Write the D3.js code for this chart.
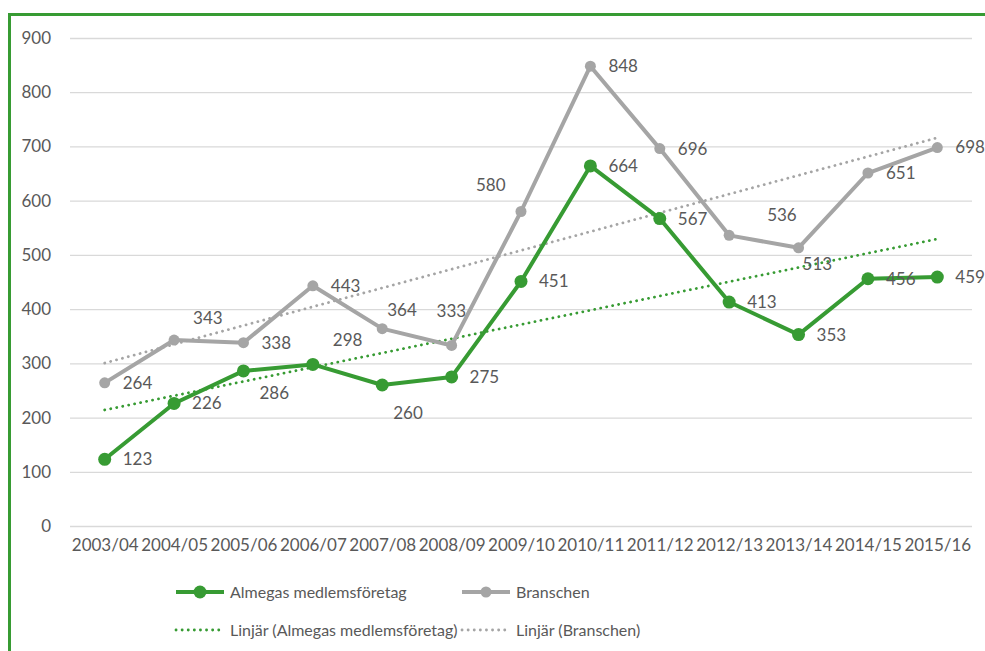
<!DOCTYPE html>
<html>
<head>
<meta charset="utf-8">
<script src="https://cdn.jsdelivr.net/npm/d3@7"></script>
<style>
  body { margin: 0; background: #fff; }
  svg text { font-family: Lato, "Open Sans", sans-serif; fill: #595959; }
</style>
</head>
<body>
<svg id="chart" width="985" height="651"></svg>
<script>
const years = ["2003/04", "2004/05", "2005/06", "2006/07", "2007/08", "2008/09", "2009/10",
               "2010/11", "2011/12", "2012/13", "2013/14", "2014/15", "2015/16"];
const almega = [123, 226, 286, 298, 260, 275, 451, 664, 567, 413, 353, 456, 459];
const bransch = [264, 343, 338, 443, 364, 333, 580, 848, 696, 536, 513, 651, 698];
const yTicks = [0, 100, 200, 300, 400, 500, 600, 700, 800, 900];

const green = "#379b33", grey = "#a5a5a5";
const margin = {top: 38, right: 13, bottom: 125, left: 70};
const width  = 985 - margin.left - margin.right;
const height = 651 - margin.top - margin.bottom;

const svg = d3.select("#chart");

// green frame, only left and top edges visible
svg.append("rect")
  .attr("x", 9.5).attr("y", 14.5)
  .attr("width", 1100).attr("height", 800)
  .attr("fill", "none")
  .attr("stroke", green)
  .attr("stroke-width", 3);

const g = svg.append("g")
  .attr("transform", "translate(" + margin.left + "," + margin.top + ")");

const x = d3.scalePoint().domain(years).range([0, width]).padding(0.5);
const y = d3.scaleLinear().domain([0, 900]).range([height, 0]);

// grid
g.append("g").selectAll("line")
  .data(yTicks)
  .join("line")
    .attr("x1", 0).attr("x2", width)
    .attr("y1", d => y(d) + 0.5).attr("y2", d => y(d) + 0.5)
    .attr("stroke", "#d9d9d9")
    .attr("stroke-width", 1.3);

const yAxis = g.append("g")
  .call(d3.axisLeft(y).tickValues(yTicks).tickSize(0).tickPadding(19));
yAxis.select(".domain").remove();
yAxis.selectAll("text").style("font-size", "17px").attr("fill", "#595959");

const xAxis = g.append("g")
  .attr("transform", "translate(0," + height + ")")
  .call(d3.axisBottom(x).tickSize(0).tickPadding(13));
xAxis.select(".domain").remove();
xAxis.selectAll("text").style("font-size", "17px").attr("fill", "#595959");

// linear trend (least squares) like Excel's Linjär trendline
function trend(vals) {
  const xs = vals.map((v, i) => i + 1);
  const mx = d3.mean(xs), my = d3.mean(vals);
  const slope = d3.sum(xs, (xi, i) => (xi - mx) * (vals[i] - my)) / d3.sum(xs, xi => (xi - mx) ** 2);
  return xs.map(xi => my + slope * (xi - mx));
}

const line = d3.line()
  .x((d, i) => x(years[i]))
  .y(d => y(d));

[[bransch, grey], [almega, green]].forEach(([vals, col]) => {
  g.append("path")
    .datum(trend(vals))
    .attr("d", line)
    .attr("fill", "none")
    .attr("stroke", col)
    .attr("stroke-width", 2.8)
    .attr("stroke-linecap", "round")
    .attr("stroke-dasharray", "0.1,6");
});

// series
[[bransch, grey, 5.5], [almega, green, 6.5]].forEach(([vals, col, r]) => {
  g.append("path")
    .datum(vals)
    .attr("d", line)
    .attr("fill", "none")
    .attr("stroke", col)
    .attr("stroke-width", 4)
    .attr("stroke-linejoin", "round");
  g.append("g").selectAll("circle")
    .data(vals)
    .join("circle")
      .attr("cx", (d, i) => x(years[i]))
      .attr("cy", d => y(d))
      .attr("r", r)
      .attr("fill", col);
});

// data labels, default to the right of the point, a few moved like in the sheet
const almegaShift = {2: [16, 22], 3: [20, -24], 4: [11, 28]};
const branschShift = {1: [19, -22], 4: [5, -19], 5: [-15, -34], 6: [-45, -26], 9: [38, -20], 10: [4, 16]};

[[almega, almegaShift], [bransch, branschShift]].forEach(([vals, shift]) => {
  g.append("g").selectAll("text")
    .data(vals)
    .join("text")
      .attr("x", (d, i) => x(years[i]) + (shift[i] ? shift[i][0] : 18))
      .attr("y", (d, i) => y(d) + (shift[i] ? shift[i][1] : 0))
      .attr("dy", "0.35em")
      .style("font-size", "17px")
      .text(d => d);
});

// legend
const legend = svg.append("g");
const items = [
  {label: "Almegas medlemsföretag", col: green, dotted: false, r: 6.5, lx: 176, ly: 592},
  {label: "Branschen", col: grey, dotted: false, r: 5.5, lx: 462, ly: 592},
  {label: "Linjär (Almegas medlemsföretag)", col: green, dotted: true, lx: 176, ly: 630},
  {label: "Linjär (Branschen)", col: grey, dotted: true, lx: 462, ly: 630}
];
items.forEach(it => {
  legend.append("line")
    .attr("x1", it.lx).attr("x2", it.lx + 48)
    .attr("y1", it.ly).attr("y2", it.ly)
    .attr("stroke", it.col)
    .attr("stroke-width", it.dotted ? 2.8 : 4)
    .attr("stroke-linecap", it.dotted ? "round" : "butt")
    .attr("stroke-dasharray", it.dotted ? "0.1,6" : null);
  if (!it.dotted) {
    legend.append("circle")
      .attr("cx", it.lx + 24).attr("cy", it.ly)
      .attr("r", it.r).attr("fill", it.col);
  }
  legend.append("text")
    .attr("x", it.lx + 54).attr("y", it.ly)
    .attr("dy", "0.35em")
    .style("font-size", "16px")
    .text(it.label);
});
</script>
</body>
</html>
